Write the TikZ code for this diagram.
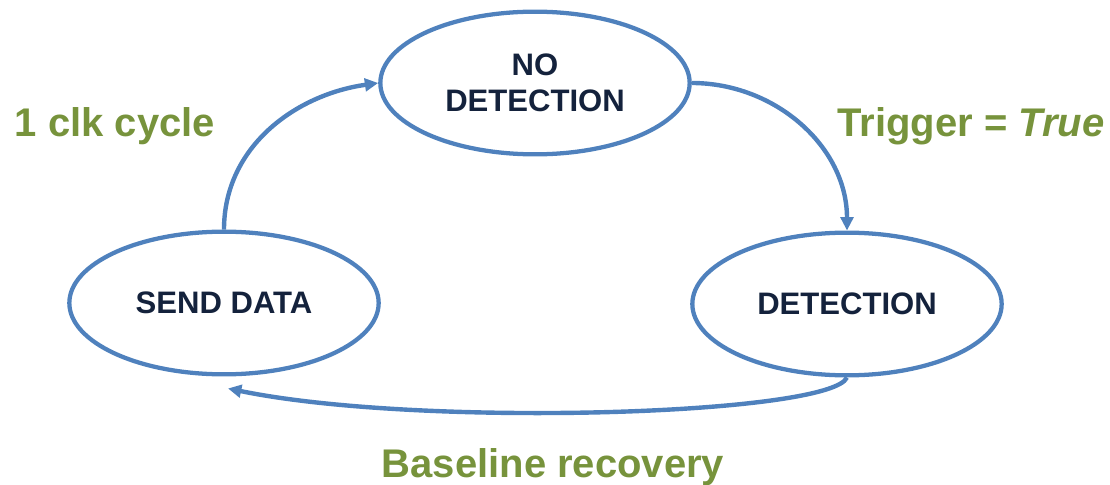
\documentclass[tikz,border=0pt]{standalone}
\usepackage{fontspec}
\setmainfont{Liberation Sans}
\usetikzlibrary{shapes.geometric,arrows.meta}
\definecolor{lineblue}{HTML}{4F81BD}
\definecolor{labgreen}{HTML}{77933C}
\definecolor{navy}{HTML}{14223C}
\tikzset{
  state/.style={ellipse, draw=lineblue, line width=3.2pt, inner sep=0pt,
    minimum width=232pt, minimum height=107pt, text=navy,
    font=\fontsize{23.3}{27}\selectfont\bfseries, align=center},
  trans/.style={draw=lineblue, line width=3.3pt, -{Triangle[length=10pt,width=9.5pt]}},
  lab/.style={text=labgreen, font=\fontsize{30}{34}\selectfont\bfseries, inner sep=0pt, anchor=base}
}
\begin{document}
\begin{tikzpicture}[x=0.75pt,y=-0.75pt]
\useasboundingbox (0,0) rectangle (1110,485);
\node[state] (nd) at (535,83) {NO\\DETECTION};
\node[state] (sd) at (224,303) {SEND DATA};
\node[state] (det) at (847,304) {DETECTION};
\draw[trans] (sd.north) to[out=90,in=188] (nd.west);
\draw[trans] (nd.east) to[out=0,in=90] (det.north);
\draw[trans] (det.south) .. controls (830,415) and (420,428) .. ([xshift=3pt,yshift=-9pt]sd.south);
\node[lab] (l1) at (115,137) {1 clk cycle};
\node[lab] (l2) at (971,137) {Trigger = \textit{True}};
\node[lab] (l3) at (553,477) {Baseline recovery};
\end{tikzpicture}
\end{document}
